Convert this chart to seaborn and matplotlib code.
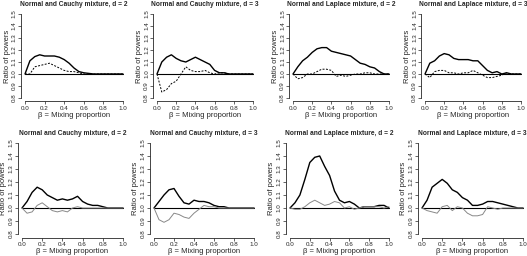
import numpy as np
import pandas as pd
import matplotlib
matplotlib.use("Agg")
from matplotlib import pyplot as plt
import seaborn as sns

# mixing proportion grid
beta = [round(0.05 * i, 2) for i in range(21)]

titles = ["Normal and Cauchy mixture, d = 2", "Normal and Cauchy mixture, d = 3",
          "Normal and Laplace mixture, d = 2", "Normal and Laplace mixture, d = 3"]

# top row: solid + dashed
top_main = [
    [1.0, 1.11, 1.145, 1.16, 1.15, 1.15, 1.15, 1.14, 1.12, 1.09, 1.05, 1.02, 1.01, 1.005, 1.0, 1.0, 1.0, 1.0, 1.0, 1.0, 1.0],
    [1.0, 1.10, 1.14, 1.16, 1.13, 1.11, 1.10, 1.12, 1.14, 1.12, 1.10, 1.08, 1.03, 1.01, 1.01, 1.0, 1.0, 1.0, 1.0, 1.0, 1.0],
    [1.0, 1.06, 1.11, 1.14, 1.18, 1.21, 1.22, 1.22, 1.19, 1.18, 1.17, 1.16, 1.15, 1.12, 1.09, 1.08, 1.06, 1.05, 1.02, 1.0, 1.0],
    [1.0, 1.09, 1.11, 1.15, 1.17, 1.16, 1.13, 1.12, 1.12, 1.12, 1.11, 1.11, 1.07, 1.03, 1.01, 1.02, 1.0, 1.01, 1.0, 1.0, 1.0],
]
top_other = [
    [1.0, 1.0, 1.06, 1.07, 1.08, 1.09, 1.07, 1.05, 1.03, 1.02, 1.02, 1.01, 1.0, 1.0, 1.0, 1.0, 1.0, 1.0, 1.0, 1.0, 1.0],
    [1.0, 0.85, 0.87, 0.92, 0.94, 1.0, 1.06, 1.03, 1.02, 1.02, 1.03, 1.01, 1.0, 1.01, 1.01, 1.0, 1.0, 1.0, 1.0, 1.0, 1.0],
    [1.0, 0.96, 0.97, 1.0, 1.0, 1.02, 1.04, 1.04, 1.03, 0.98, 0.99, 0.98, 0.99, 1.0, 1.0, 1.01, 1.01, 1.0, 1.0, 1.0, 1.0],
    [1.0, 0.97, 1.02, 1.03, 1.03, 1.01, 1.01, 1.0, 1.01, 1.01, 1.03, 1.01, 0.99, 0.97, 0.97, 0.98, 0.99, 1.01, 1.0, 1.0, 1.0],
]
# bottom row: solid + gray
bot_main = [
    [1.0, 1.05, 1.12, 1.16, 1.14, 1.10, 1.08, 1.06, 1.07, 1.06, 1.07, 1.09, 1.05, 1.03, 1.02, 1.02, 1.01, 1.0, 1.0, 1.0, 1.0],
    [1.0, 1.05, 1.10, 1.14, 1.15, 1.09, 1.04, 1.03, 1.06, 1.05, 1.05, 1.04, 1.02, 1.01, 1.01, 1.0, 1.0, 1.0, 1.0, 1.0, 1.0],
    [1.0, 1.04, 1.10, 1.22, 1.35, 1.39, 1.40, 1.32, 1.25, 1.13, 1.06, 1.04, 1.05, 1.03, 1.0, 1.01, 1.01, 1.01, 1.02, 1.02, 1.0],
    [1.0, 1.06, 1.16, 1.19, 1.22, 1.19, 1.14, 1.12, 1.08, 1.06, 1.02, 1.02, 1.03, 1.05, 1.05, 1.04, 1.03, 1.02, 1.01, 1.0, 1.0],
]
bot_other = [
    [1.0, 0.96, 0.97, 1.02, 1.04, 1.01, 0.98, 0.97, 0.98, 0.97, 1.0, 1.01, 1.0, 1.0, 1.0, 1.0, 1.0, 1.0, 1.0, 1.0, 1.0],
    [1.0, 0.91, 0.89, 0.91, 0.96, 0.95, 0.93, 0.92, 0.96, 0.99, 1.02, 1.01, 1.01, 1.0, 1.0, 1.0, 1.0, 1.0, 1.0, 1.0, 1.0],
    [1.0, 0.99, 0.99, 1.01, 1.04, 1.06, 1.04, 1.02, 1.03, 1.05, 1.04, 1.0, 1.01, 0.99, 1.0, 1.01, 1.01, 1.01, 1.01, 1.0, 1.01],
    [1.0, 0.98, 0.97, 0.96, 1.01, 1.02, 0.98, 1.01, 1.0, 0.96, 0.94, 0.94, 0.95, 1.01, 1.0, 0.99, 1.0, 1.0, 1.0, 1.0, 1.0],
]
yticks = [0.8, 0.9, 1.0, 1.1, 1.2, 1.3, 1.4, 1.5]
xticks = [0.0, 0.2, 0.4, 0.6, 0.8, 1.0]

sns.set_style("ticks")
plt.rcParams["font.family"] = ["Liberation Sans", "DejaVu Sans"]

W, H = 527, 256
fig = plt.figure(figsize=(W / 100, H / 100), dpi=100)

# pixel positions of x=0, x=1 and y=1.5, y=0.8 for each panel
top_x = [(25, 123), (157, 253), (293, 389), (425, 521)]
bot_x = [(22, 123), (154, 254), (290, 389), (422, 523)]
rows = [(14, 98, top_x, top_main, top_other, "dashed"),
        (143, 234, bot_x, bot_main, bot_other, "gray")]


def place(x0, x1, yt, yb):
    dx = x1 - x0
    dy = yb - yt
    left = x0 - 0.04 * dx
    top = yt - 0.04 * dy
    return [left / W, 1 - (top + 1.08 * dy) / H, 1.08 * dx / W, 1.08 * dy / H]


for yt, yb, xs, mains, others, kind in rows:
    for i in range(4):
        ax = fig.add_axes(place(xs[i][0], xs[i][1], yt, yb))
        df = pd.DataFrame({"beta": beta, "main": mains[i], "other": others[i]})
        ax.axhline(1.0, xmin=0.04 / 1.08, xmax=1.04 / 1.08, color="black", lw=0.8)
        sns.lineplot(data=df, x="beta", y="main", ax=ax, color="black", lw=1.0)
        if kind == "dashed":
            sns.lineplot(data=df, x="beta", y="other", ax=ax, color="black",
                         lw=0.7, linestyle=(0, (2, 1.5)))
        else:
            sns.lineplot(data=df, x="beta", y="other", ax=ax, color="#888888", lw=0.7)
        ax.set_xlim(-0.04, 1.04)
        ax.set_ylim(0.772, 1.528)
        ax.set_xticks(xticks)
        ax.set_xticklabels([f"{v:.1f}" for v in xticks])
        ax.set_yticks(yticks)
        ax.set_yticklabels([f"{v:.1f}" for v in yticks], rotation=90, va="center")
        ax.tick_params(labelsize=4.5, length=2, width=0.5, pad=1)
        for s in ["top", "right"]:
            ax.spines[s].set_visible(False)
        ax.spines["bottom"].set_bounds(0, 1)
        ax.spines["left"].set_bounds(0.8, 1.5)
        ax.spines["bottom"].set_linewidth(0.6)
        ax.spines["left"].set_linewidth(0.6)
        ax.set_xlabel("β = Mixing proportion", fontsize=5.5, labelpad=1)
        ax.set_ylabel("Ratio of powers", fontsize=5.5, labelpad=1)
        ax.set_title(titles[i], fontsize=4.8, fontweight="bold", pad=3)

fig.savefig("out.png", dpi=100)
